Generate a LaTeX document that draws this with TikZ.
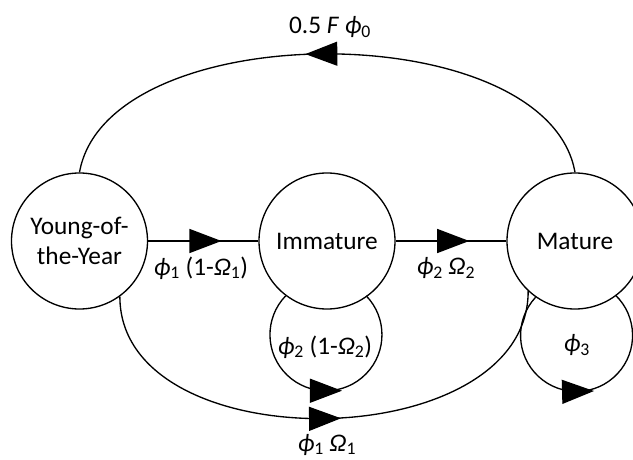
\documentclass[tikz,border=0pt]{standalone}
\usepackage{fontspec}
\setmainfont{Carlito}
\usetikzlibrary{arrows.meta,decorations.markings}
\newcommand{\phis}[1]{\textit{ϕ}\textsubscript{#1}}
\newcommand{\oms}[1]{\textit{Ω}\textsubscript{#1}}
\tikzset{stage/.style={draw,circle,minimum size=102pt,inner sep=0pt,align=center},
midarrow/.style={postaction={decorate},decoration={markings,mark=at position #1 with {\arrow[xshift=12pt]{Triangle[length=24pt,width=18pt]}}}}}

\begin{document}
\begin{tikzpicture}[x=0.75pt,y=0.75pt,line width=1pt,font=\fontsize{19}{22.5}\selectfont]
\useasboundingbox(0,0)rectangle(633,-460);
\node[stage](yoy)at(79.5,-241){Young-of-\\the-Year};\node[stage](imm)at(327,-241){Immature};\node[stage](mat)at(575,-241){Mature};
\draw[midarrow=.52](yoy)--(imm);\draw[midarrow=.52](imm)--(mat);
\draw[midarrow=.51](mat.north)to[out=100,in=80,looseness=.83](yoy.north);
\draw[midarrow=.5](yoy.-54)to[out=-90,in=-90,looseness=1.04](mat.-133);
% self loops
\draw[midarrow=.5](imm.-127)arc[start angle=136,end angle=404,radius=42pt];
\draw[midarrow=.5](mat.-125)arc[start angle=137,end angle=406,radius=42pt];
\node(f0)at(330,-27){0.5 \textit{F} \phis{0}};\node(t1)at(201,-268){\phis{1} (1-\oms{1})};\node(t2)at(446,-268){\phis{2} \oms{2}};
\node(s2)at(325,-347){\phis{2} (1-\oms{2})};\node(s3)at(577,-345){\phis{3}};\node(b1)at(327,-445){\phis{1} \oms{1}};
\end{tikzpicture}
\end{document}
